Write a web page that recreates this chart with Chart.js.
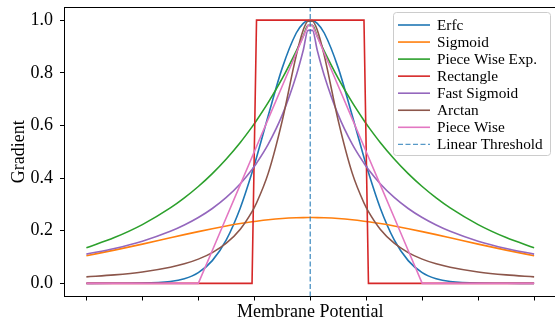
<!DOCTYPE html>
<html>
<head>
<meta charset="utf-8">
<script src="https://cdn.jsdelivr.net/npm/chart.js@4.4.1/dist/chart.umd.min.js"></script>
<style>
  html, body { margin: 0; padding: 0; background: #ffffff; overflow: hidden; width: 555px; height: 322px; }
  #wrap { width: 560px; height: 322px; }
</style>
</head>
<body>
<div id="wrap"><canvas id="c" width="560" height="322"></canvas></div>
<script>
// ---- data ----
const xValues = [-4, -3.5, -3, -2.5, -2.25, -2, -1.75, -1.5, -1.25, -1.04, -0.96, -0.75, -0.5, -0.25, -0.125, -0.04,
                 0.04, 0.125, 0.25, 0.5, 0.75, 0.96, 1.04, 1.25, 1.5, 1.75, 2, 2.25, 2.5, 3, 3.5, 4];

const erfc = [0.0000, 0.0001, 0.0007, 0.0067, 0.0174, 0.0408, 0.0863, 0.1653, 0.2865, 0.4209, 0.4784, 0.6376, 0.8187, 0.9512, 0.9876, 0.9987,
              0.9987, 0.9876, 0.9512, 0.8187, 0.6376, 0.4784, 0.4209, 0.2865, 0.1653, 0.0863, 0.0408, 0.0174, 0.0067, 0.0007, 0.0001, 0.0000];

const sigmoid = [0.1050, 0.1261, 0.1491, 0.1731, 0.1850, 0.1966, 0.2077, 0.2179, 0.2271, 0.2338, 0.2361, 0.2414, 0.2461, 0.2490, 0.2498, 0.2500,
                 0.2500, 0.2498, 0.2490, 0.2461, 0.2414, 0.2361, 0.2338, 0.2271, 0.2179, 0.2077, 0.1966, 0.1850, 0.1731, 0.1491, 0.1261, 0.1050];

const pieceWiseExp = [0.1353, 0.1738, 0.2231, 0.2865, 0.3247, 0.3679, 0.4169, 0.4724, 0.5353, 0.5945, 0.6188, 0.6873, 0.7788, 0.8825, 0.9394, 0.9802,
                      0.9802, 0.9394, 0.8825, 0.7788, 0.6873, 0.6188, 0.5945, 0.5353, 0.4724, 0.4169, 0.3679, 0.3247, 0.2865, 0.2231, 0.1738, 0.1353];

const rectangle = [0, 0, 0, 0, 0, 0, 0, 0, 0, 0, 1, 1, 1, 1, 1, 1,
                   1, 1, 1, 1, 1, 1, 0, 0, 0, 0, 0, 0, 0, 0, 0, 0];

const fastSigmoid = [0.1111, 0.1322, 0.1600, 0.1975, 0.2215, 0.2500, 0.2844, 0.3265, 0.3787, 0.4328, 0.4565, 0.5289, 0.6400, 0.7901, 0.8858, 0.9612,
                     0.9612, 0.8858, 0.7901, 0.6400, 0.5289, 0.4565, 0.4328, 0.3787, 0.3265, 0.2844, 0.2500, 0.2215, 0.1975, 0.1600, 0.1322, 0.1111];

const arctan = [0.0247, 0.0320, 0.0431, 0.0609, 0.0741, 0.0920, 0.1169, 0.1526, 0.2060, 0.2726, 0.3054, 0.4188, 0.6185, 0.8664, 0.9629, 0.9961,
                0.9961, 0.9629, 0.8664, 0.6185, 0.4188, 0.3054, 0.2726, 0.2060, 0.1526, 0.1169, 0.0920, 0.0741, 0.0609, 0.0431, 0.0320, 0.0247];

const pieceWise = [0, 0, 0, 0, 0, 0, 0.125, 0.25, 0.375, 0.48, 0.52, 0.625, 0.75, 0.875, 0.9375, 0.98,
                   0.98, 0.9375, 0.875, 0.75, 0.625, 0.52, 0.48, 0.375, 0.25, 0.125, 0, 0, 0, 0, 0, 0];

const thresholdX = [0, 0];
const thresholdY = [-0.05, 1.05];

const seriesNames = ['Erfc', 'Sigmoid', 'Piece Wise Exp.', 'Rectangle', 'Fast Sigmoid', 'Arctan', 'Piece Wise', 'Linear Threshold'];
const xTicks = [-4, -3, -2, -1, 0, 1, 2, 3, 4];
const yTicks = [0.0, 0.2, 0.4, 0.6, 0.8, 1.0];
const xTitle = 'Membrane Potential';
const yTitle = 'Gradient';

// ---- styling ----
const colors = ['#1f77b4', '#ff7f0e', '#2ca02c', '#d62728', '#9467bd', '#8c564b', '#e377c2', 'rgba(31,119,180,0.75)'];
const curveSeries = [erfc, sigmoid, pieceWiseExp, rectangle, fastSigmoid, arctan, pieceWise];
const straight = [false, false, false, true, false, false, true];

Chart.defaults.font.family = "'Liberation Serif', 'DejaVu Serif', serif";
Chart.defaults.color = '#000';

const datasets = curveSeries.map((vals, i) => ({
  label: seriesNames[i],
  data: xValues.map((x, k) => ({ x: x, y: vals[k] })),
  borderColor: colors[i],
  backgroundColor: colors[i],
  borderWidth: 1.6,
  pointRadius: 0,
  fill: false,
  tension: 0,
  cubicInterpolationMode: straight[i] ? 'default' : 'monotone',
  order: 20 - i
}));
datasets.push({
  label: seriesNames[7],
  data: thresholdX.map((x, k) => ({ x: x, y: thresholdY[k] })),
  borderColor: colors[7],
  backgroundColor: colors[7],
  borderWidth: 1.4,
  borderDash: [5, 2.5],
  pointRadius: 0,
  fill: false,
  order: 1
});

const framePlugin = {
  id: 'frame',
  afterDatasetsDraw(chart) {
    const { ctx, chartArea: a } = chart;
    ctx.save();
    ctx.strokeStyle = '#000';
    ctx.lineWidth = 1;
    ctx.beginPath();
    ctx.moveTo(Math.round(a.left) + 0.5, Math.round(a.top) + 0.5);
    ctx.lineTo(a.right + 2, Math.round(a.top) + 0.5);
    ctx.stroke();
    ctx.restore();

    // legend box
    const x0 = 393.5, y0 = 12.5, w = 157, h = 143, r = 3;
    ctx.save();
    ctx.beginPath();
    ctx.moveTo(x0 + r, y0);
    ctx.lineTo(x0 + w - r, y0);
    ctx.arcTo(x0 + w, y0, x0 + w, y0 + r, r);
    ctx.lineTo(x0 + w, y0 + h - r);
    ctx.arcTo(x0 + w, y0 + h, x0 + w - r, y0 + h, r);
    ctx.lineTo(x0 + r, y0 + h);
    ctx.arcTo(x0, y0 + h, x0, y0 + h - r, r);
    ctx.lineTo(x0, y0 + r);
    ctx.arcTo(x0, y0, x0 + r, y0, r);
    ctx.closePath();
    ctx.fillStyle = 'rgba(255,255,255,0.8)';
    ctx.fill();
    ctx.strokeStyle = '#cccccc';
    ctx.lineWidth = 1;
    ctx.stroke();

    ctx.font = "15.3px 'Liberation Serif'";
    ctx.textBaseline = 'middle';
    ctx.textAlign = 'left';
    chart.data.datasets.forEach((ds, i) => {
      const y = 25 + i * 17.05;
      ctx.beginPath();
      ctx.strokeStyle = ds.borderColor;
      ctx.lineWidth = ds.borderWidth;
      ctx.setLineDash(ds.borderDash || []);
      ctx.moveTo(398, y);
      ctx.lineTo(430, y);
      ctx.stroke();
      ctx.setLineDash([]);
      ctx.fillStyle = '#000';
      ctx.fillText(ds.label, 437, y + 0.5);
    });
    ctx.restore();
  }
};

new Chart(document.getElementById('c'), {
  type: 'line',
  data: { datasets: datasets },
  options: {
    responsive: false,
    animation: false,
    devicePixelRatio: 1,
    layout: { padding: { top: 7, right: 3.5, left: 0, bottom: 0 } },
    plugins: { legend: { display: false }, tooltip: { enabled: false } },
    scales: {
      x: {
        type: 'linear',
        min: -4.4,
        max: 4.4,
        afterBuildTicks: s => { s.ticks = xTicks.map(v => ({ value: v })); },
        afterFit: s => { s.height = 25.5; s.paddingLeft = 0; s.paddingRight = 0; s.paddingTop = 0; s.paddingBottom = 0; },
        ticks: { display: false },
        grid: { display: true, drawOnChartArea: false, drawTicks: true, tickLength: 4, color: '#000' },
        border: { display: true, color: '#000', width: 1 },
        title: { display: true, text: xTitle, font: { size: 18 }, padding: { top: 0, bottom: -1.5 }, color: '#000' }
      },
      y: {
        type: 'linear',
        min: -0.05,
        max: 1.05,
        afterBuildTicks: s => { s.ticks = yTicks.map(v => ({ value: v })); },
        afterFit: s => { s.width = 64; s.paddingTop = 0; s.paddingBottom = 0; s.paddingLeft = 0; s.paddingRight = 0; },
        ticks: { font: { size: 18 }, padding: 7, color: '#000', callback: v => Number(v).toFixed(1) },
        grid: { display: true, drawOnChartArea: false, drawTicks: true, tickLength: 4, color: '#000' },
        border: { display: true, color: '#000', width: 1 },
        title: { display: true, text: yTitle, font: { size: 18 }, padding: { top: 8, bottom: 0 }, color: '#000' }
      }
    }
  },
  plugins: [framePlugin]
});
</script>
</body>
</html>
